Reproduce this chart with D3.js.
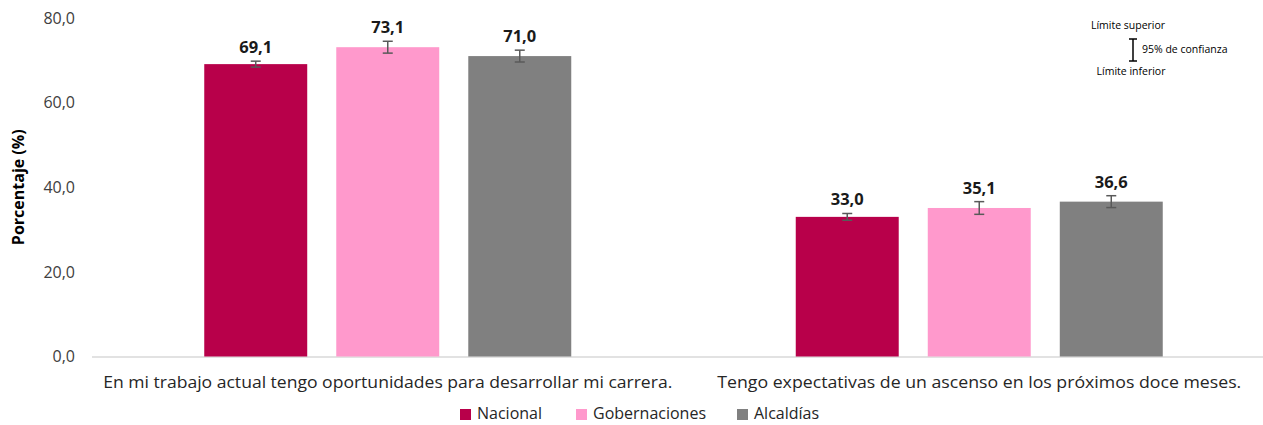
<!DOCTYPE html>
<html>
<head>
<meta charset="utf-8">
<script src="https://cdn.jsdelivr.net/npm/d3@7"></script>
<style>
	body { margin: 0; background: #fff; }
	svg { display: block; font-family: "Open Sans", "DejaVu Sans", sans-serif; }
</style>
</head>
<body>
<svg id="chart" width="1263" height="425"></svg>
<script>
// categories and series
var categories = [
	"En mi trabajo actual tengo oportunidades para desarrollar mi carrera.",
	"Tengo expectativas de un ascenso en los próximos doce meses."
];
var categoryWidths = [569, 524];
var seriesNames = ["Nacional", "Gobernaciones", "Alcaldías"];
var nacional = [69.1, 33.0];
var gobernaciones = [73.1, 35.1];
var alcaldias = [71.0, 36.6];
// 95% confidence intervals [low, high]
var nacionalCI = [[68.4, 69.8], [32.2, 33.8]];
var gobernacionesCI = [[71.7, 74.5], [33.6, 36.6]];
var alcaldiasCI = [[69.6, 72.4], [35.2, 38.0]];
var yTicks = [0, 20, 40, 60, 80];

var colours = ["#b8004a", "#ff99cc", "#808080"];

var svg = d3.select("#chart");
var margin = {top: 18, left: 92, right: 0, bottom: 0};
var plotBottom = 356.5;

var x0 = d3.scaleBand()
	.domain(categories)
	.range([92, 1275])
	.paddingInner(0)
	.paddingOuter(0);

var x1 = d3.scaleBand()
	.domain(seriesNames)
	.range([0, 367])
	.paddingInner(0.22);

var y = d3.scaleLinear()
	.domain([0, 80])
	.range([plotBottom, margin.top]);

var fmt = function(v){ return d3.format(".1f")(v).replace(".", ","); };

// y axis ticks (no line)
var yAxis = d3.axisLeft(y).tickValues(yTicks).tickSize(0).tickPadding(0).tickFormat(fmt);
var gy = svg.append("g")
	.attr("transform", "translate(75,0)")
	.call(yAxis);
gy.select(".domain").remove();
gy.selectAll("text")
	.attr("fill", "#404040")
	.attr("font-size", "16px")
	.attr("font-family", "\"Open Sans\", sans-serif");

svg.append("text")
	.attr("transform", "translate(24," + ((plotBottom + margin.top) / 2) + ") rotate(-90)")
	.attr("text-anchor", "middle")
	.attr("font-size", "16px")
	.attr("font-weight", "bold")
	.attr("fill", "#000")
	.text("Porcentaje (%)");

// baseline
svg.append("line")
	.attr("x1", 92).attr("x2", 1268)
	.attr("y1", y(0) + 0.5).attr("y2", y(0) + 0.5)
	.attr("stroke", "#d9d9d9")
	.attr("stroke-width", 1.5);

var seriesVals = [nacional, gobernaciones, alcaldias];
var seriesCI = [nacionalCI, gobernacionesCI, alcaldiasCI];

var data = [];
categories.forEach(function(c, ci){
	seriesNames.forEach(function(s, si){
		data.push({cat: c, name: s, value: seriesVals[si][ci], ci: seriesCI[si][ci], colour: colours[si]});
	});
});

var groups = svg.append("g");
var barX = function(d){ return x0(d.cat) + (x0.bandwidth() - 367) / 2 + x1(d.name); };

groups.selectAll("rect")
	.data(data)
	.enter().append("rect")
	.attr("x", barX)
	.attr("width", x1.bandwidth())
	.attr("y", function(d){ return y(d.value); })
	.attr("height", function(d){ return y(0) - y(d.value); })
	.attr("fill", function(d){ return d.colour; });

// error bars
var err = groups.selectAll(".err")
	.data(data)
	.enter().append("g")
	.attr("class", "err")
	.attr("stroke", "#595959")
	.attr("stroke-width", 1.5);
var cx = function(d){ return barX(d) + x1.bandwidth() / 2; };
err.append("line")
	.attr("x1", cx).attr("x2", cx)
	.attr("y1", function(d){ return y(d.ci[1]); })
	.attr("y2", function(d){ return y(d.ci[0]); });
err.append("line")
	.attr("x1", function(d){ return cx(d) - 5; }).attr("x2", function(d){ return cx(d) + 5; })
	.attr("y1", function(d){ return y(d.ci[1]); })
	.attr("y2", function(d){ return y(d.ci[1]); });
err.append("line")
	.attr("x1", function(d){ return cx(d) - 5; }).attr("x2", function(d){ return cx(d) + 5; })
	.attr("y1", function(d){ return y(d.ci[0]); })
	.attr("y2", function(d){ return y(d.ci[0]); });

// value labels
groups.selectAll(".val")
	.data(data)
	.enter().append("text")
	.attr("class", "val")
	.attr("x", cx)
	.attr("y", function(d){ return y(d.ci[1]) - 8; })
	.attr("text-anchor", "middle")
	.attr("font-size", "16.5px")
	.attr("font-weight", "bold")
	.attr("fill", "#1a1a1a")
	.text(function(d){ return fmt(d.value); });

// category labels
svg.selectAll(".cat")
	.data(categories)
	.enter().append("text")
	.attr("class", "cat")
	.attr("x", function(d){ return x0(d) + x0.bandwidth() / 2; })
	.attr("y", 388)
	.attr("text-anchor", "middle")
	.attr("font-size", "16px")
	.attr("fill", "#262626")
	.attr("textLength", function(d, i){ return categoryWidths[i]; })
	.attr("lengthAdjust", "spacingAndGlyphs")
	.text(function(d){ return d; });

// legend
var legendX = [460, 576, 737];
var legend = svg.append("g");
seriesNames.forEach(function(s, i){
	legend.append("rect")
		.attr("x", legendX[i]).attr("y", 409)
		.attr("width", 11).attr("height", 11)
		.attr("fill", colours[i]);
	legend.append("text")
		.attr("x", legendX[i] + 17).attr("y", 419)
		.attr("font-size", "16px")
		.attr("fill", "#262626")
		.text(s);
});

// confidence annotation
var note = svg.append("g").attr("font-size", "10.5px").attr("fill", "#000");
note.append("text").attr("x", 1128).attr("y", 29).attr("text-anchor", "middle").text("Límite superior");
note.append("text").attr("x", 1131).attr("y", 75).attr("text-anchor", "middle").text("Límite inferior");
note.append("text").attr("x", 1142).attr("y", 53).text("95% de confianza");
var ib = note.append("g").attr("stroke", "#000").attr("stroke-width", 1.5);
ib.append("line").attr("x1", 1133).attr("x2", 1133).attr("y1", 39).attr("y2", 61);
ib.append("line").attr("x1", 1129).attr("x2", 1137).attr("y1", 39).attr("y2", 39);
ib.append("line").attr("x1", 1129).attr("x2", 1137).attr("y1", 61).attr("y2", 61);
</script>
</body>
</html>
